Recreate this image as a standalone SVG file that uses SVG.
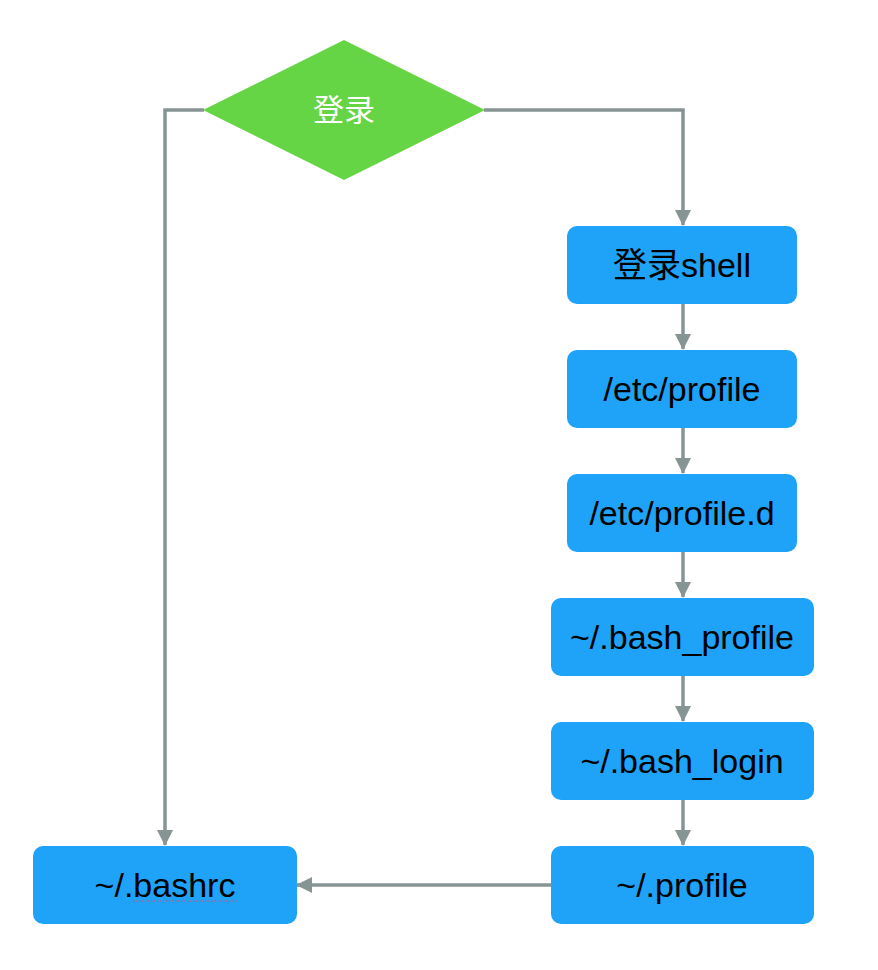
<svg xmlns="http://www.w3.org/2000/svg" width="878" height="970" viewBox="0 0 878 970">
<style>
.box{fill:#1EA3F8}
.lbl{font-family:"Liberation Sans","Noto Sans CJK SC",Arial,sans-serif;font-size:34px;fill:#000;text-anchor:middle}
.dl{font-family:"Liberation Sans","Noto Sans CJK SC",Arial,sans-serif;font-size:31px;fill:#fff;text-anchor:middle}
.conn{fill:none;stroke:#879494;stroke-width:3.5}
</style>
<defs>
<marker id="ah" viewBox="0 0 16 16" refX="15" refY="8" markerWidth="16" markerHeight="16" markerUnits="userSpaceOnUse" orient="auto">
<path d="M0,0 L16,8 L0,16 Z" fill="#879494"/>
</marker>
</defs>
<rect width="878" height="970" fill="#fff"/>
<g id="connectors">
<path class="conn" d="M204,110 H165 V845" marker-end="url(#ah)"/>
<path class="conn" d="M484,110 H683 V225" marker-end="url(#ah)"/>
<path class="conn" d="M683,304 V349" marker-end="url(#ah)"/>
<path class="conn" d="M683,428 V473" marker-end="url(#ah)"/>
<path class="conn" d="M683,552 V597" marker-end="url(#ah)"/>
<path class="conn" d="M683,676 V721" marker-end="url(#ah)"/>
<path class="conn" d="M683,800 V845" marker-end="url(#ah)"/>
<path class="conn" d="M551,885 H297" marker-end="url(#ah)"/>
</g>
<g id="login">
<polygon points="344,40 485,110 344,180 203,110" fill="#66D545"/>
<text class="dl" x="344" y="121">登录</text>
</g>
<g id="login-shell">
<rect class="box" x="567" y="226" width="230" height="78" rx="10"/>
<text class="lbl" x="682" y="277">登录shell</text>
</g>
<g id="etc-profile">
<rect class="box" x="567" y="350" width="230" height="78" rx="10"/>
<text class="lbl" x="682" y="401">/etc/profile</text>
</g>
<g id="etc-profile-d">
<rect class="box" x="567" y="474" width="230" height="78" rx="10"/>
<text class="lbl" x="682" y="525">/etc/profile.d</text>
</g>
<g id="bash-profile">
<rect class="box" x="551" y="598" width="263" height="78" rx="10"/>
<text class="lbl" x="682" y="649">~/.bash_profile</text>
</g>
<g id="bash-login">
<rect class="box" x="551" y="722" width="263" height="78" rx="10"/>
<text class="lbl" x="682" y="773">~/.bash_login</text>
</g>
<g id="profile">
<rect class="box" x="551" y="846" width="263" height="78" rx="10"/>
<text class="lbl" x="682" y="897">~/.profile</text>
</g>
<g id="bashrc">
<rect class="box" x="33" y="846" width="264" height="78" rx="10"/>
<text class="lbl" x="165" y="897">~/.bashrc</text>
<path d="M133,901 H237" stroke="#D0507A" stroke-width="1.2" stroke-dasharray="1.5,1.5" fill="none"/>
</g>
</svg>
